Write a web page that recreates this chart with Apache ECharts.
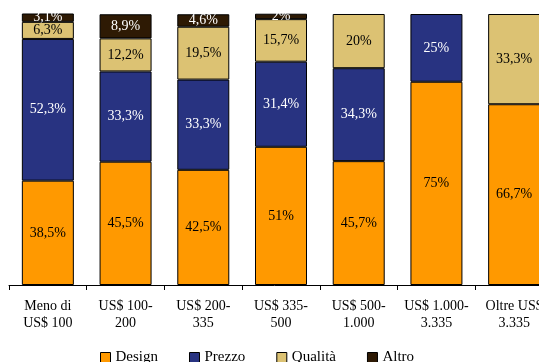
<!DOCTYPE html>
<html><head><meta charset="utf-8">
<script src="https://cdn.jsdelivr.net/npm/echarts@6/dist/echarts.min.js"></script>
<style>html,body{margin:0;padding:0;background:#fff;overflow:hidden}#c{width:539px;height:362px}</style>
</head><body><div id="c"></div>
<script>
const categories = ["Meno di\nUS$ 100","US$ 100-\n200","US$ 200-\n335","US$ 335-\n500","US$ 500-\n1.000","US$ 1.000-\n3.335","Oltre US$\n3.335"];
const design  = [38.5, 45.5, 42.5, 51, 45.7, 75, 66.7];
const prezzo  = [52.3, 33.3, 33.3, 31.4, 34.3, 25, 0];
const qualita = [6.3, 12.2, 19.5, 15.7, 20, 0, 33.3];
const altro   = [3.1, 8.9, 4.6, 2, 0, 0, 0];

const FONT = "'Liberation Serif', 'DejaVu Serif', serif";
function fmt(p){ return String(p.value).replace('.', ',') + '%'; }
function mk(name, data, color, labelColor){
  return {
    name, type:'bar', stack:'tot', barWidth:52,
    data: data.map(v => v === 0 ? '-' : v),
    itemStyle:{color, borderColor:'#000', borderWidth:1},
    label:{show:true, position:'inside', formatter:fmt, color:labelColor, fontFamily:FONT, fontSize:14},
    emphasis:{disabled:true}
  };
}
const chart = echarts.init(document.getElementById('c'));
chart.setOption({
  animation:false,
  textStyle:{fontFamily:FONT},
  grid:{left:9, top:14, right:-14, bottom:77, outerBoundsMode:'none', containLabel:false},
  legend:{
    left:100, top:350, padding:0, icon:'rect', itemWidth:10, itemHeight:10, itemGap:31,
    itemStyle:{borderColor:'#000', borderWidth:1},
    textStyle:{fontFamily:FONT, fontSize:15, color:'#000'},
    data:['Design','Prezzo','Qualità','Altro']
  },
  xAxis:{
    type:'category', data:categories,
    axisLine:{lineStyle:{color:'#000'}},
    axisTick:{show:true, length:5, lineStyle:{color:'#000'}},
    axisLabel:{fontFamily:FONT, fontSize:14, color:'#000', margin:13, lineHeight:17, interval:0, hideOverlap:false}
  },
  yAxis:{type:'value', min:0, max:100, show:false},
  series:[
    mk('Design', design, '#FF9900', '#000'),
    mk('Prezzo', prezzo, '#283381', '#fff'),
    mk('Qualità', qualita, '#DCC273', '#000'),
    mk('Altro', altro, '#2E1A04', '#fff')
  ]
});
</script></body></html>
